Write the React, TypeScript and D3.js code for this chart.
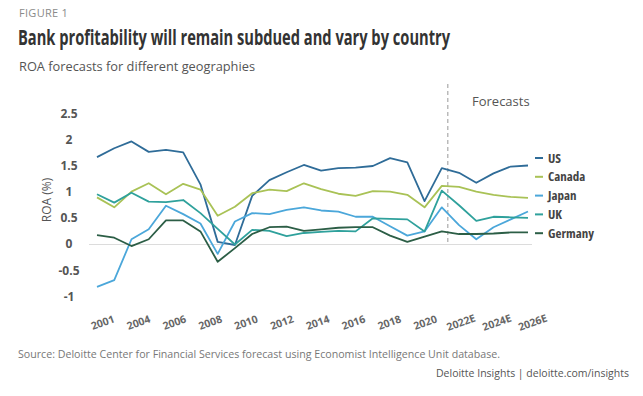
import React, { useEffect, useRef } from 'react';
import * as d3 from 'd3';

const years = [
  '2001', '2002', '2003', '2004', '2005', '2006', '2007', '2008', '2009', '2010', '2011', '2012', '2013',
  '2014', '2015', '2016', '2017', '2018', '2019', '2020', '2021', '2022E', '2023E', '2024E', '2025E', '2026E',
];
const tickLabels = ['2001', '2004', '2006', '2008', '2010', '2012', '2014', '2016', '2018', '2020', '2022E', '2024E', '2026E'];
const yTicks = [-1, -0.5, 0, 0.5, 1, 1.5, 2, 2.5];

const us = [1.67, 1.84, 1.97, 1.77, 1.81, 1.76, 1.15, 0.05, -0.01, 0.93, 1.23, 1.38, 1.52, 1.41, 1.46, 1.47, 1.5, 1.65, 1.57, 0.83, 1.46, 1.37, 1.18, 1.36, 1.49, 1.51];
const canada = [0.9, 0.71, 1.01, 1.17, 0.96, 1.16, 1.05, 0.55, 0.72, 0.98, 1.05, 1.02, 1.17, 1.06, 0.97, 0.93, 1.02, 1.01, 0.95, 0.71, 1.12, 1.1, 1.01, 0.95, 0.91, 0.89];
const japan = [-0.81, -0.68, 0.1, 0.29, 0.74, 0.58, 0.4, -0.18, 0.44, 0.6, 0.58, 0.66, 0.71, 0.65, 0.63, 0.53, 0.53, 0.35, 0.17, 0.25, 0.71, 0.37, 0.1, 0.33, 0.48, 0.63];
const uk = [0.96, 0.8, 0.99, 0.82, 0.81, 0.85, 0.6, 0.3, 0.0, 0.28, 0.26, 0.16, 0.22, 0.24, 0.26, 0.25, 0.5, 0.49, 0.48, 0.25, 1.03, 0.75, 0.45, 0.53, 0.52, 0.51];
const germany = [0.18, 0.13, -0.03, 0.1, 0.46, 0.46, 0.25, -0.33, -0.07, 0.2, 0.33, 0.34, 0.26, 0.29, 0.32, 0.33, 0.33, 0.17, 0.05, 0.15, 0.25, 0.2, 0.2, 0.21, 0.23, 0.23];

const seriesNames = ['US', 'Canada', 'Japan', 'UK', 'Germany'];
const seriesValues = [us, canada, japan, uk, germany];
const colors = ['#2f6c98', '#a9c256', '#4ba7da', '#2fa19c', '#2c5e46'];
const forecastStart = '2021';

const App = () => {
  const svg = useRef(null);
  const width = 643;
  const height = 396;
  const font = "'Open Sans', sans-serif";

  const renderChart = (svg: any) => {
    svg.selectAll('*').remove();

    const x = d3.scalePoint().domain(years).range([97, 528]);
    const y = d3.scaleLinear().domain([-1, 2.5]).range([296.8, 113.7]);
    const step = x.step();

    // header
    svg.append('text').attr('x', 19).attr('y', 16.5).text('FIGURE 1')
      .attr('font-family', font).attr('font-size', 11).attr('fill', '#8a8a8a').attr('letter-spacing', 0.3);
    svg.append('text').attr('x', 18).attr('y', 45).text('Bank profitability will remain subdued and vary by country')
      .attr('font-family', font).attr('font-size', 21).attr('font-weight', 700).attr('fill', '#333')
      .attr('textLength', 432).attr('lengthAdjust', 'spacingAndGlyphs');
    svg.append('text').attr('x', 19).attr('y', 71).text('ROA forecasts for different geographies')
      .attr('font-family', font).attr('font-size', 13.5).attr('fill', '#555')
      .attr('textLength', 236).attr('lengthAdjust', 'spacingAndGlyphs');

    // zero line
    svg.append('line')
      .attr('x1', x(years[0])! - 8).attr('x2', x(years[years.length - 1])! + 4)
      .attr('y1', y(0)).attr('y2', y(0))
      .attr('stroke', '#dcdcdc').attr('stroke-width', 1);

    // forecast divider
    const fx = x(forecastStart)! + step * 0.35;
    svg.append('line')
      .attr('x1', fx).attr('x2', fx).attr('y1', 84).attr('y2', y(0))
      .attr('stroke', '#999').attr('stroke-width', 1).attr('stroke-dasharray', '4,3');
    svg.append('text').attr('x', 472).attr('y', 106).text('Forecasts')
      .attr('font-family', font).attr('font-size', 13).attr('fill', '#555');

    // y axis labels
    svg.append('g').selectAll('text').data(yTicks).enter().append('text')
      .attr('x', 69).attr('y', (d: number) => y(d) + 4)
      .attr('text-anchor', 'middle')
      .attr('font-family', font).attr('font-size', 12).attr('font-weight', 700).attr('fill', '#555')
      .text((d: number) => String(d));
    svg.append('text')
      .attr('transform', `translate(51, ${y(0.85)}) rotate(-90)`)
      .attr('text-anchor', 'middle').text('ROA (%)')
      .attr('font-family', font).attr('font-size', 12).attr('fill', '#555');

    // x axis labels
    const xl = d3.scalePoint().domain(tickLabels).range([x(years[0])! + 7, x(years[years.length - 1])! + 6]);
    svg.append('g').selectAll('text').data(tickLabels).enter().append('text')
      .attr('transform', (d: string) => `translate(${xl(d)}, 326) rotate(-20)`)
      .attr('text-anchor', 'middle')
      .attr('font-family', font).attr('font-size', 10.5).attr('font-weight', 700).attr('fill', '#666')
      .text((d: string) => d);

    // lines
    const line = d3.line<number>()
      .x((_d, i) => x(years[i])!)
      .y(d => y(d));
    svg.append('g').selectAll('path').data(seriesValues).enter().append('path')
      .attr('d', (d: number[]) => line(d))
      .attr('fill', 'none')
      .attr('stroke', (_d: any, i: number) => colors[i])
      .attr('stroke-width', 1.8)
      .attr('stroke-linejoin', 'round');

    // legend
    const legend = svg.append('g').selectAll('g').data(seriesNames).enter().append('g')
      .attr('transform', (_d: string, i: number) => `translate(535, ${158 + i * 18.8})`);
    legend.append('line').attr('x1', 0).attr('x2', 8).attr('y1', 0).attr('y2', 0)
      .attr('stroke', (_d: string, i: number) => colors[i]).attr('stroke-width', 2);
    legend.append('text').attr('x', 13).attr('y', 4.5).text((d: string) => d)
      .attr('font-family', font).attr('font-size', 13).attr('font-weight', 700).attr('fill', '#444')
      .attr('font-stretch', 'condensed');

    // footer
    svg.append('text').attr('x', 18).attr('y', 358)
      .text('Source: Deloitte Center for Financial Services forecast using Economist Intelligence Unit database.')
      .attr('font-family', font).attr('font-size', 10.5).attr('fill', '#777')
      .attr('textLength', 482).attr('lengthAdjust', 'spacingAndGlyphs');
    svg.append('text').attr('x', 629).attr('y', 377).attr('text-anchor', 'end')
      .text('Deloitte Insights | deloitte.com/insights')
      .attr('font-family', font).attr('font-size', 10.5).attr('fill', '#555');
  };

  useEffect(() => {
    renderChart(d3.select(svg.current));
  }, []);

  return (
    <svg
      ref={svg}
      width={width}
      height={height}
      style={{ position: 'absolute', left: 0, top: 0, background: '#fff' }}
    />
  );
};

export default App;
